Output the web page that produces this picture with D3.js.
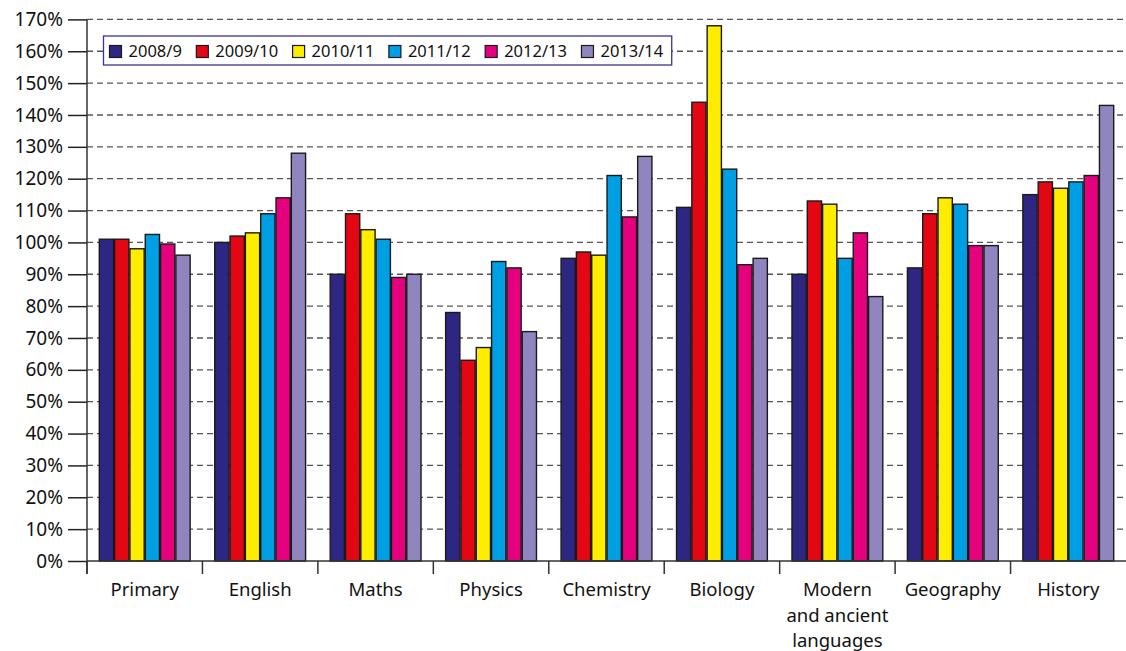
<!DOCTYPE html>
<html>
<head>
<meta charset="utf-8">
<script src="https://cdn.jsdelivr.net/npm/d3@7/dist/d3.min.js"></script>
<style>
  body { margin: 0; background: #fff; }
  svg text { font-family: "Noto Sans", sans-serif; fill: #111; }
</style>
</head>
<body>
<div class="plot"></div>
<script>
//DATA
let subjects = ["Primary", "English", "Maths", "Physics", "Chemistry", "Biology",
  "Modern\nand ancient\nlanguages", "Geography", "History"];
let years = ["2008/9", "2009/10", "2010/11", "2011/12", "2012/13", "2013/14"];
let colours = ["#2e2683", "#e30613", "#ffed00", "#009fe3", "#e5007e", "#9085bf"];

// one array per year, values in % (order follows subjects)
let y2008 = [101, 100, 90, 78, 95, 111, 90, 92, 115];
let y2009 = [101, 102, 109, 63, 97, 144, 113, 109, 119];
let y2010 = [98, 103, 104, 67, 96, 168, 112, 114, 117];
let y2011 = [102.5, 109, 101, 94, 121, 123, 95, 112, 119];
let y2012 = [99.5, 114, 89, 92, 108, 93, 103, 99, 121];
let y2013 = [96, 128, 90, 72, 127, 95, 83, 99, 143];
let seriesValues = [y2008, y2009, y2010, y2011, y2012, y2013];

let yTicks = d3.range(0, 171, 10);

//GENERAL VARIABLE INITIALIZATION
let w = 1126;
let h = 651;
let paddingLeft = 87;
let paddingRight = 0;
let paddingTop = 19.4;
let paddingBottom = 90;

let svg = d3.select(".plot").append("svg")
    .attr("width", w)
    .attr("height", h);

//SCALES
let xScale = d3.scaleBand()
    .domain(subjects)
    .range([paddingLeft, w - paddingRight])
    .padding(0);

let xInner = d3.scaleBand()
    .domain(years)
    .range([12.3, xScale.bandwidth() - 12.3])
    .paddingInner(0.07);

let yScale = d3.scaleLinear()
    .domain([0, 170])
    .range([h - paddingBottom, paddingTop]);

//GRIDLINES
svg.append("g")
  .selectAll("line")
  .data(yTicks.filter(d => d > 0))
  .enter()
  .append("line")
  .attr("x1", paddingLeft)
  .attr("x2", w)
  .attr("y1", d => yScale(d))
  .attr("y2", d => yScale(d))
  .attr("stroke", "#555")
  .attr("stroke-width", 1.3)
  .attr("stroke-dasharray", "6,4");

//BARS
let table = subjects.map((s, i) => ({
  subject: s,
  values: years.map((yr, j) => ({ year: yr, value: seriesValues[j][i], colour: colours[j] }))
}));

let groups = svg.append("g")
  .selectAll("g")
  .data(table)
  .enter()
  .append("g")
  .attr("transform", d => "translate(" + xScale(d.subject) + ",0)");

groups.selectAll("rect")
  .data(d => d.values)
  .enter()
  .append("rect")
  .attr("x", d => xInner(d.year))
  .attr("y", d => yScale(d.value))
  .attr("width", xInner.bandwidth())
  .attr("height", d => yScale(0) - yScale(d.value))
  .attr("fill", d => d.colour)
  .attr("stroke", "#1a1a1a")
  .attr("stroke-width", 1.4);

//Y AXIS
let yAxis = d3.axisLeft(yScale)
    .tickValues(yTicks)
    .tickSize(19)
    .tickPadding(5)
    .tickFormat(d => d + "%");

let yAxisG = svg.append("g")
    .attr("transform", "translate(" + paddingLeft + ",0)")
    .call(yAxis);
yAxisG.select(".domain").remove();
yAxisG.selectAll("line").attr("stroke", "#222").attr("stroke-width", 1.5);
yAxisG.selectAll("text")
    .attr("font-size", 19)
    .attr("fill", "#111")
    .style("font-family", "'Noto Sans', sans-serif");

// axis lines
svg.append("line")
  .attr("x1", paddingLeft).attr("x2", paddingLeft)
  .attr("y1", yScale(170)).attr("y2", yScale(0) + 13)
  .attr("stroke", "#333").attr("stroke-width", 1.5);
svg.append("line")
  .attr("x1", paddingLeft).attr("x2", w)
  .attr("y1", yScale(0)).attr("y2", yScale(0))
  .attr("stroke", "#333").attr("stroke-width", 1.5);

//X AXIS (ticks at category boundaries)
svg.append("g")
  .selectAll("line")
  .data(subjects)
  .enter()
  .append("line")
  .attr("x1", d => xScale(d))
  .attr("x2", d => xScale(d))
  .attr("y1", yScale(0))
  .attr("y2", yScale(0) + 13)
  .attr("stroke", "#333")
  .attr("stroke-width", 1.5);

let xLabels = svg.append("g")
  .selectAll("text")
  .data(subjects)
  .enter()
  .append("text")
  .attr("x", d => xScale(d) + xScale.bandwidth() / 2)
  .attr("y", yScale(0) + 35)
  .attr("text-anchor", "middle")
  .attr("font-size", 18.5);

xLabels.selectAll("tspan")
  .data(d => d.split("\n"))
  .enter()
  .append("tspan")
  .attr("x", function() { return this.parentNode.getAttribute("x"); })
  .attr("dy", (d, i) => i === 0 ? 0 : 25.5)
  .text(d => d);

//LEGEND
let legend = svg.append("g")
  .attr("transform", "translate(103.5,36)");

let legendBox = legend.append("rect")
  .attr("width", 563)
  .attr("height", 29)
  .attr("fill", "#fff")
  .attr("stroke", "#3b3591")
  .attr("stroke-width", 1.3);

let lx = 6;
years.forEach((yr, i) => {
  legend.append("rect")
    .attr("x", lx)
    .attr("y", 9.5)
    .attr("width", 12)
    .attr("height", 12)
    .attr("fill", colours[i])
    .attr("stroke", "#1a1a1a")
    .attr("stroke-width", 1.2);
  let t = legend.append("text")
    .attr("x", lx + 19)
    .attr("y", 21)
    .attr("font-size", 16.5)
    .text(yr);
  lx += 19 + t.node().getComputedTextLength() + 14.5;
});
legendBox.attr("width", lx - 6);
</script>
</body>
</html>
